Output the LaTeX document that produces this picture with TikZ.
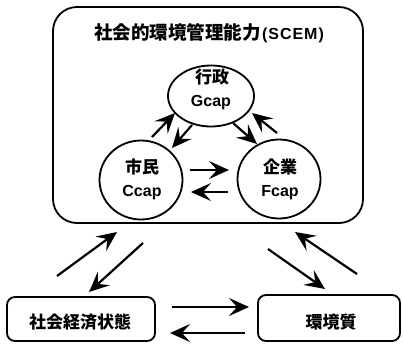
\documentclass[tikz,border=0pt]{standalone}
\usepackage{fontspec}
\setmainfont{Noto Sans CJK JP}
\newfontfamily\lat{Liberation Sans}
\newfontfamily\latsp{Liberation Sans}[LetterSpace=6]
\usetikzlibrary{shapes.geometric,arrows.meta}
\tikzset{arr/.style={line width=2.2pt,-{Stealth[length=20pt,width=18pt,inset=8pt]}}}
\begin{document}
\begin{tikzpicture}[x=1pt,y=-1pt,
  oval/.style={draw,line width=1.8pt,ellipse,inner sep=0pt},
  jp/.style={font=\fontsize{17}{17}\selectfont\bfseries,inner sep=0pt},
  la/.style={font=\fontsize{16}{16}\selectfont\lat\bfseries,inner sep=0pt},
  boxs/.style={draw,line width=1.8pt,rounded corners=8pt,inner sep=0pt}]
\useasboundingbox (0,0) rectangle (403,343);
% outer frame
\node[draw,line width=1.8pt,rounded corners=24pt,minimum width=310pt,minimum height=216pt,inner sep=0pt] (outer) at (208,115) {};
\node[font=\fontsize{18.5}{18.5}\selectfont\bfseries,inner sep=0pt] (title) at (209,33) {社会的環境管理能力\hspace{1.5pt}{\latsp\fontsize{16}{16}\selectfont\bfseries (SCEM)}};
% circles
\node[oval,minimum width=86pt,minimum height=61pt] (G) at (211,96) {};
\node[oval,minimum width=83pt,minimum height=79pt] (C) at (141,180) {};
\node[oval,minimum width=83pt,minimum height=79pt] (F) at (279,179) {};
\node[jp] (Gj) at (212,77) {行政};
\node[la] (Gl) at (211,103) {Gcap};
\node[jp] (Cj) at (142,167) {市民};
\node[la] (Cl) at (142,193) {Ccap};
\node[jp] (Fj) at (280,167) {企業};
\node[la] (Fl) at (280,193) {Fcap};
% bottom boxes
\node[boxs,minimum width=148pt,minimum height=44pt] (S) at (81,319) {};
\node[jp] (St) at (80,322) {社会経済状態};
\node[boxs,minimum width=142pt,minimum height=46pt] (E) at (329,318) {};
\node[jp] (Et) at (331,322) {環境質};
% arrow end points
\coordinate (a1) at (152,137); \coordinate (b1) at (175,113);
\coordinate (a2) at (192,125); \coordinate (b2) at (172,148);
\coordinate (a3) at (233,123); \coordinate (b3) at (257,144);
\coordinate (a4) at (277,133); \coordinate (b4) at (252,113);
\coordinate (a5) at (190,170); \coordinate (b5) at (229,170);
\coordinate (a6) at (228,192); \coordinate (b6) at (191,192);
\coordinate (a7) at (57,276);  \coordinate (b7) at (117,232);
\coordinate (a8) at (143,243); \coordinate (b8) at (89,292);
\coordinate (a9) at (268,249); \coordinate (b9) at (325,289);
\coordinate (a10) at (357,274); \coordinate (b10) at (295,232);
\coordinate (a11) at (172,307); \coordinate (b11) at (249,307);
\coordinate (a12) at (245,333); \coordinate (b12) at (170,333);
\foreach \i in {1,...,12} \draw[arr] (a\i) -- (b\i);
\end{tikzpicture}
\end{document}
